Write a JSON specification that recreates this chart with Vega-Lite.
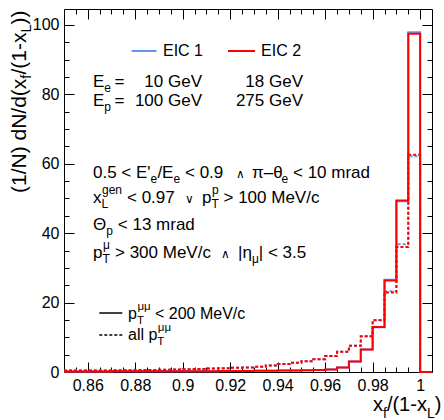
{
  "$schema": "https://vega.github.io/schema/vega-lite/v6.json",
  "width": 368,
  "height": 363,
  "autosize": {"type": "none"},
  "padding": {"left": 64, "top": 9, "right": 12, "bottom": 48},
  "background": "white",
  "config": {
    "view": {"stroke": "black", "strokeWidth": 1},
    "axis": {"grid": false, "domain": false, "labelFont": "Liberation Sans", "labelFontSize": 16, "labelColor": "black", "tickColor": "black", "tickWidth": 1, "labelFlush": false, "labelOverlap": false},
    "text": {"font": "Liberation Sans", "fontSize": 17, "align": "left", "baseline": "alphabetic", "fill": "black"}
  },
  "datasets": {
    "hist": [
      {"x": 0.85, "b_cut": 0.15, "b_all": 0.4, "r_cut": 0.15, "r_all": 0.4},
      {"x": 0.855, "b_cut": 0.15, "b_all": 0.4, "r_cut": 0.15, "r_all": 0.4},
      {"x": 0.86, "b_cut": 0.15, "b_all": 0.45, "r_cut": 0.15, "r_all": 0.45},
      {"x": 0.865, "b_cut": 0.15, "b_all": 0.45, "r_cut": 0.15, "r_all": 0.45},
      {"x": 0.87, "b_cut": 0.2, "b_all": 0.5, "r_cut": 0.2, "r_all": 0.5},
      {"x": 0.875, "b_cut": 0.2, "b_all": 0.5, "r_cut": 0.2, "r_all": 0.5},
      {"x": 0.88, "b_cut": 0.2, "b_all": 0.55, "r_cut": 0.2, "r_all": 0.55},
      {"x": 0.885, "b_cut": 0.2, "b_all": 0.6, "r_cut": 0.2, "r_all": 0.6},
      {"x": 0.89, "b_cut": 0.2, "b_all": 0.65, "r_cut": 0.2, "r_all": 0.65},
      {"x": 0.895, "b_cut": 0.2, "b_all": 0.7, "r_cut": 0.2, "r_all": 0.7},
      {"x": 0.9, "b_cut": 0.25, "b_all": 0.8, "r_cut": 0.25, "r_all": 0.8},
      {"x": 0.905, "b_cut": 0.25, "b_all": 0.85, "r_cut": 0.25, "r_all": 0.85},
      {"x": 0.91, "b_cut": 0.25, "b_all": 1.0, "r_cut": 0.25, "r_all": 1.0},
      {"x": 0.915, "b_cut": 0.3, "b_all": 1.05, "r_cut": 0.3, "r_all": 1.05},
      {"x": 0.92, "b_cut": 0.3, "b_all": 1.25, "r_cut": 0.3, "r_all": 1.25},
      {"x": 0.925, "b_cut": 0.3, "b_all": 1.3, "r_cut": 0.3, "r_all": 1.3},
      {"x": 0.93, "b_cut": 0.35, "b_all": 1.5, "r_cut": 0.35, "r_all": 1.5},
      {"x": 0.935, "b_cut": 0.35, "b_all": 1.9, "r_cut": 0.35, "r_all": 1.9},
      {"x": 0.94, "b_cut": 0.4, "b_all": 2.3, "r_cut": 0.4, "r_all": 2.3},
      {"x": 0.945, "b_cut": 0.45, "b_all": 2.7, "r_cut": 0.45, "r_all": 2.7},
      {"x": 0.95, "b_cut": 0.5, "b_all": 3.1, "r_cut": 0.5, "r_all": 3.1},
      {"x": 0.955, "b_cut": 0.55, "b_all": 3.7, "r_cut": 0.55, "r_all": 3.7},
      {"x": 0.96, "b_cut": 0.75, "b_all": 4.6, "r_cut": 0.75, "r_all": 4.6},
      {"x": 0.965, "b_cut": 1.3, "b_all": 5.8, "r_cut": 1.3, "r_all": 5.8},
      {"x": 0.97, "b_cut": 3.0, "b_all": 7.6, "r_cut": 3.0, "r_all": 7.6},
      {"x": 0.975, "b_cut": 6.5, "b_all": 10.3, "r_cut": 6.5, "r_all": 10.3},
      {"x": 0.98, "b_cut": 12.9, "b_all": 15.0, "r_cut": 13.0, "r_all": 14.9},
      {"x": 0.985, "b_cut": 26.6, "b_all": 23.3, "r_cut": 26.4, "r_all": 22.9},
      {"x": 0.99, "b_cut": 49.2, "b_all": 36.8, "r_cut": 49.4, "r_all": 36.0},
      {"x": 0.995, "b_cut": 97.9, "b_all": 62.2, "r_cut": 97.5, "r_all": 62.6},
      {"x": 1.0, "b_cut": 0, "b_all": 0, "r_cut": 0, "r_all": 0},
      {"x": 1.005, "b_cut": 0, "b_all": 0, "r_cut": 0, "r_all": 0}
    ]
  },
  "resolve": {"axis": {"x": "independent", "y": "independent"}},
  "layer": [
    {
      "data": {"name": "hist"},
      "transform": [{"fold": ["b_cut", "b_all"], "as": ["series", "val"]}],
      "mark": {"type": "line", "interpolate": "step-after", "strokeWidth": 2},
      "encoding": {
        "x": {"field": "x", "type": "quantitative", "scale": {"domain": [0.85, 1.005], "nice": false, "zero": false},
          "axis": {"orient": "bottom", "values": [0.86, 0.88, 0.9, 0.92, 0.94, 0.96, 0.98, 1], "format": "~g", "ticks": false, "labelPadding": 5, "title": null}},
        "y": {"field": "val", "type": "quantitative", "scale": {"domain": [0, 104.6], "nice": false, "zero": false},
          "axis": {"orient": "left", "values": [0, 20, 40, 60, 80, 100], "format": "d", "ticks": false, "labelPadding": 5, "title": null}},
        "color": {"field": "series", "type": "nominal", "scale": {"domain": ["b_cut", "b_all", "r_cut", "r_all"], "range": ["#6495ed", "#6495ed", "#ff0000", "#ff0000"]}, "legend": null},
        "strokeDash": {"field": "series", "type": "nominal", "scale": {"domain": ["b_cut", "b_all", "r_cut", "r_all"], "range": [[1, 0], [3, 2], [1, 0], [3, 2]]}, "legend": null}
      }
    },
    {
      "data": {"name": "hist"},
      "transform": [{"fold": ["r_cut", "r_all"], "as": ["series", "val"]}],
      "mark": {"type": "line", "interpolate": "step-after", "strokeWidth": 2},
      "encoding": {
        "x": {"field": "x", "type": "quantitative", "axis": null},
        "y": {"field": "val", "type": "quantitative", "axis": null},
        "color": {"field": "series", "type": "nominal", "legend": null},
        "strokeDash": {"field": "series", "type": "nominal", "legend": null}
      }
    },
    {
      "data": {"values": [{}]},
      "mark": {"type": "point", "opacity": 0},
      "encoding": {
        "x": {"datum": 0.9, "type": "quantitative", "axis": {"orient": "bottom", "values": [0.86, 0.88, 0.9, 0.92, 0.94, 0.96, 0.98, 1], "labels": false, "tickSize": -10, "title": null}},
        "y": {"datum": 50, "type": "quantitative", "axis": {"orient": "left", "values": [0, 20, 40, 60, 80, 100], "labels": false, "tickSize": -10, "title": null}}
      }
    },
    {
      "data": {"values": [{}]},
      "mark": {"type": "point", "opacity": 0},
      "encoding": {
        "x": {"datum": 0.9, "type": "quantitative", "axis": {"orient": "bottom", "values": [0.855, 0.865, 0.87, 0.875, 0.885, 0.89, 0.895, 0.905, 0.91, 0.915, 0.925, 0.93, 0.935, 0.945, 0.95, 0.955, 0.965, 0.97, 0.975, 0.985, 0.99, 0.995], "labels": false, "tickSize": -5, "title": null}},
        "y": {"datum": 50, "type": "quantitative", "axis": {"orient": "left", "values": [5, 10, 15, 25, 30, 35, 45, 50, 55, 65, 70, 75, 85, 90, 95], "labels": false, "tickSize": -5, "title": null}}
      }
    },
    {
      "data": {"values": [{}]},
      "mark": {"type": "point", "opacity": 0},
      "encoding": {
        "x": {"datum": 0.9, "type": "quantitative", "axis": {"orient": "top", "values": [0.86, 0.88, 0.9, 0.92, 0.94, 0.96, 0.98, 1], "labels": false, "tickSize": -10, "title": null}},
        "y": {"datum": 50, "type": "quantitative", "axis": {"orient": "right", "values": [0, 20, 40, 60, 80, 100], "labels": false, "tickSize": -10, "title": null}}
      }
    },
    {
      "data": {"values": [{}]},
      "mark": {"type": "point", "opacity": 0},
      "encoding": {
        "x": {"datum": 0.9, "type": "quantitative", "axis": {"orient": "top", "values": [0.855, 0.865, 0.87, 0.875, 0.885, 0.89, 0.895, 0.905, 0.91, 0.915, 0.925, 0.93, 0.935, 0.945, 0.95, 0.955, 0.965, 0.97, 0.975, 0.985, 0.99, 0.995], "labels": false, "tickSize": -5, "title": null}},
        "y": {"datum": 50, "type": "quantitative", "axis": {"orient": "right", "values": [5, 10, 15, 25, 30, 35, 45, 50, 55, 65, 70, 75, 85, 90, 95], "labels": false, "tickSize": -5, "title": null}}
      }
    },
    {
      "data": {"values": [{}]},
      "mark": {"type": "rule", "color": "#6495ed", "strokeWidth": 2},
      "encoding": {"x": {"datum": 0.8785, "type": "quantitative", "axis": null}, "x2": {"datum": 0.889}, "y": {"datum": 92.5, "type": "quantitative", "axis": null}}
    },
    {
      "data": {"values": [{}]},
      "mark": {"type": "rule", "color": "#ff0000", "strokeWidth": 2},
      "encoding": {"x": {"datum": 0.91908, "type": "quantitative", "axis": null}, "x2": {"datum": 0.93045}, "y": {"datum": 92.5, "type": "quantitative", "axis": null}}
    },
    {
      "data": {"values": [{}]},
      "mark": {"type": "rule", "color": "black", "strokeWidth": 1.5},
      "encoding": {"x": {"datum": 0.86487, "type": "quantitative", "axis": null}, "x2": {"datum": 0.87456}, "y": {"datum": 17.0, "type": "quantitative", "axis": null}}
    },
    {
      "data": {"values": [{}]},
      "mark": {"type": "rule", "color": "black", "strokeWidth": 1.5, "strokeDash": [3, 2]},
      "encoding": {"x": {"datum": 0.86487, "type": "quantitative", "axis": null}, "x2": {"datum": 0.87456}, "y": {"datum": 10.66, "type": "quantitative", "axis": null}}
    },
    {
      "data": {"values": [{}]},
      "encoding": {"x": {"datum": 0.8917, "type": "quantitative", "axis": null}, "y": {"datum": 91.11, "type": "quantitative", "axis": null}},
      "layer": [{"mark": {"type": "text", "text": "EIC 1", "fontSize": 16}}]
    },
    {
      "data": {"values": [{}]},
      "encoding": {"x": {"datum": 0.93298, "type": "quantitative", "axis": null}, "y": {"datum": 91.11, "type": "quantitative", "axis": null}},
      "layer": [{"mark": {"type": "text", "text": "EIC 2", "fontSize": 16}}]
    },
    {
      "data": {"values": [{}]},
      "encoding": {"x": {"datum": 0.86221, "type": "quantitative", "axis": null}, "y": {"datum": 82.18, "type": "quantitative", "axis": null}},
      "layer": [
        {"mark": {"type": "text", "text": "E"}},
        {"mark": {"type": "text", "text": "e", "dx": 11.3, "dy": 5, "fontSize": 12}},
        {"mark": {"type": "text", "text": "=", "dx": 21.5}},
        {"mark": {"type": "text", "text": "10 GeV", "dx": 109, "align": "right"}},
        {"mark": {"type": "text", "text": "18 GeV", "dx": 210, "align": "right"}}
      ]
    },
    {
      "data": {"values": [{}]},
      "encoding": {"x": {"datum": 0.86221, "type": "quantitative", "axis": null}, "y": {"datum": 76.71, "type": "quantitative", "axis": null}},
      "layer": [
        {"mark": {"type": "text", "text": "E"}},
        {"mark": {"type": "text", "text": "p", "dx": 11.3, "dy": 5, "fontSize": 12}},
        {"mark": {"type": "text", "text": "=", "dx": 21.5}},
        {"mark": {"type": "text", "text": "100 GeV", "dx": 109, "align": "right"}},
        {"mark": {"type": "text", "text": "275 GeV", "dx": 210, "align": "right"}}
      ]
    },
    {
      "data": {"values": [{}]},
      "encoding": {"x": {"datum": 0.86221, "type": "quantitative", "axis": null}, "y": {"datum": 55.96, "type": "quantitative", "axis": null}},
      "layer": [
        {"mark": {"type": "text", "text": "0.5 < E'"}},
        {"mark": {"type": "text", "text": "e", "dx": 57.6, "dy": 5, "fontSize": 12}},
        {"mark": {"type": "text", "text": "/E", "dx": 64.4}},
        {"mark": {"type": "text", "text": "e", "dx": 80.4, "dy": 5, "fontSize": 12}},
        {"mark": {"type": "text", "text": "< 0.9", "dx": 92}},
        {"mark": {"type": "text", "text": "∧", "dx": 143, "fontSize": 12}},
        {"mark": {"type": "text", "text": "π–θ", "dx": 159}},
        {"mark": {"type": "text", "text": "e", "dx": 188.5, "dy": 5, "fontSize": 12}},
        {"mark": {"type": "text", "text": "< 10 mrad", "dx": 200}}
      ]
    },
    {
      "data": {"values": [{}]},
      "encoding": {"x": {"datum": 0.86221, "type": "quantitative", "axis": null}, "y": {"datum": 48.76, "type": "quantitative", "axis": null}},
      "layer": [
        {"mark": {"type": "text", "text": "x"}},
        {"mark": {"type": "text", "text": "L", "dx": 8.5, "dy": 5, "fontSize": 12}},
        {"mark": {"type": "text", "text": "gen", "dx": 9, "dy": -9, "fontSize": 12}},
        {"mark": {"type": "text", "text": "< 0.97", "dx": 34}},
        {"mark": {"type": "text", "text": "∨", "dx": 92, "fontSize": 12}},
        {"mark": {"type": "text", "text": "p", "dx": 109}},
        {"mark": {"type": "text", "text": "T", "dx": 118.5, "dy": 5, "fontSize": 12}},
        {"mark": {"type": "text", "text": "p", "dx": 119, "dy": -9, "fontSize": 12}},
        {"mark": {"type": "text", "text": "> 100 MeV/c", "dx": 130.5}}
      ]
    },
    {
      "data": {"values": [{}]},
      "encoding": {"x": {"datum": 0.86221, "type": "quantitative", "axis": null}, "y": {"datum": 40.98, "type": "quantitative", "axis": null}},
      "layer": [
        {"mark": {"type": "text", "text": "Θ"}},
        {"mark": {"type": "text", "text": "p", "dx": 13.2, "dy": 5, "fontSize": 12}},
        {"mark": {"type": "text", "text": "< 13 mrad", "dx": 24.8}}
      ]
    },
    {
      "data": {"values": [{}]},
      "encoding": {"x": {"datum": 0.86221, "type": "quantitative", "axis": null}, "y": {"datum": 32.91, "type": "quantitative", "axis": null}},
      "layer": [
        {"mark": {"type": "text", "text": "p"}},
        {"mark": {"type": "text", "text": "T", "dx": 9.45, "dy": 5, "fontSize": 12}},
        {"mark": {"type": "text", "text": "μ", "dx": 10, "dy": -9, "fontSize": 12}},
        {"mark": {"type": "text", "text": "> 300 MeV/c", "dx": 22}},
        {"mark": {"type": "text", "text": "∧", "dx": 128, "fontSize": 12}},
        {"mark": {"type": "text", "text": "|η", "dx": 145}},
        {"mark": {"type": "text", "text": "μ", "dx": 158.9, "dy": 5, "fontSize": 12}},
        {"mark": {"type": "text", "text": "| < 3.5", "dx": 165.8}}
      ]
    },
    {
      "data": {"values": [{}]},
      "encoding": {"x": {"datum": 0.87696, "type": "quantitative", "axis": null}, "y": {"datum": 15.33, "type": "quantitative", "axis": null}},
      "layer": [
        {"mark": {"type": "text", "text": "p", "fontSize": 16}},
        {"mark": {"type": "text", "text": "T", "dx": 8.9, "dy": 5, "fontSize": 11.5}},
        {"mark": {"type": "text", "text": "μμ", "dx": 9.4, "dy": -9, "fontSize": 11.5}},
        {"mark": {"type": "text", "text": "< 200 MeV/c", "dx": 27, "fontSize": 16}}
      ]
    },
    {
      "data": {"values": [{}]},
      "encoding": {"x": {"datum": 0.87696, "type": "quantitative", "axis": null}, "y": {"datum": 9.28, "type": "quantitative", "axis": null}},
      "layer": [
        {"mark": {"type": "text", "text": "all p", "fontSize": 16}},
        {"mark": {"type": "text", "text": "T", "dx": 29.3, "dy": 5, "fontSize": 11.5}},
        {"mark": {"type": "text", "text": "μμ", "dx": 29.8, "dy": -9, "fontSize": 11.5}}
      ]
    },
    {
      "data": {"values": [{}]},
      "encoding": {"x": {"datum": 0.98015, "type": "quantitative", "axis": null}, "y": {"datum": -11.24, "type": "quantitative", "axis": null}},
      "layer": [
        {"mark": {"type": "text", "text": "x", "fontSize": 20}},
        {"mark": {"type": "text", "text": "f", "dx": 10, "dy": 6.5, "fontSize": 14}},
        {"mark": {"type": "text", "text": "/(1-x", "dx": 13.9, "fontSize": 20}},
        {"mark": {"type": "text", "text": "L", "dx": 53.9, "dy": 6.5, "fontSize": 14}},
        {"mark": {"type": "text", "text": ")", "dx": 61.7, "fontSize": 20}}
      ]
    },
    {
      "data": {"values": [{}]},
      "encoding": {"x": {"datum": 0.83399, "type": "quantitative", "axis": null}, "y": {"datum": 51.58, "type": "quantitative", "axis": null}},
      "layer": [
        {"mark": {"type": "text", "text": "(1/N) dN/d(x", "fontSize": 21, "angle": 270}},
        {"mark": {"type": "text", "text": "f", "dx": 114.3, "dy": 5.5, "fontSize": 14.7, "angle": 270}},
        {"mark": {"type": "text", "text": "/(1-x", "dx": 118.4, "fontSize": 21, "angle": 270}},
        {"mark": {"type": "text", "text": "L", "dx": 160.4, "dy": 5.5, "fontSize": 14.7, "angle": 270}},
        {"mark": {"type": "text", "text": "))", "dx": 168.6, "fontSize": 21, "angle": 270}}
      ]
    }
  ]
}
